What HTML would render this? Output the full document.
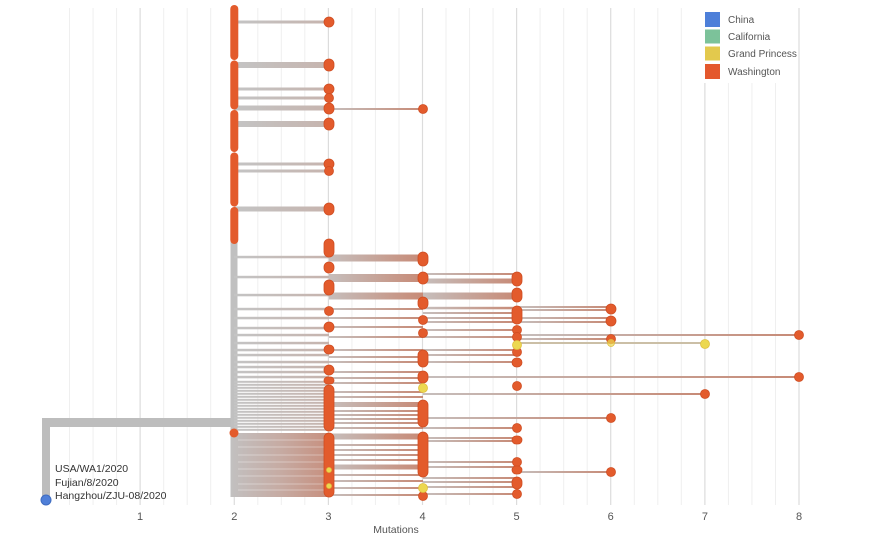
<!DOCTYPE html>
<html><head><meta charset="utf-8"><style>
html,body{margin:0;padding:0;background:#fff;}
svg{display:block;font-family:"Liberation Sans",sans-serif;}
</style></head><body>
<svg width="870" height="540" viewBox="0 0 870 540" xmlns="http://www.w3.org/2000/svg">
<defs>
<linearGradient id="g" x1="0" y1="0" x2="1" y2="0"><stop offset="0" stop-color="#c6bebc"/><stop offset="1" stop-color="#c78a76"/></linearGradient>
<linearGradient id="g2" x1="0" y1="0" x2="1" y2="0"><stop offset="0" stop-color="#c4c4c4"/><stop offset="1" stop-color="#c6b4ae"/></linearGradient>
<linearGradient id="gb" x1="0" y1="0" x2="1" y2="0"><stop offset="0" stop-color="#c2c0c0"/><stop offset="0.5" stop-color="#c6aba3"/><stop offset="1" stop-color="#c78f7e"/></linearGradient>
</defs>
<!-- grid -->
<g stroke="#efefef" stroke-width="1">
<line x1="69.5" y1="8" x2="69.5" y2="505"/><line x1="93.1" y1="8" x2="93.1" y2="505"/><line x1="116.6" y1="8" x2="116.6" y2="505"/>
<line x1="163.7" y1="8" x2="163.7" y2="505"/><line x1="187.2" y1="8" x2="187.2" y2="505"/><line x1="210.7" y1="8" x2="210.7" y2="505"/>
<line x1="257.8" y1="8" x2="257.8" y2="505"/><line x1="281.3" y1="8" x2="281.3" y2="505"/><line x1="304.8" y1="8" x2="304.8" y2="505"/>
<line x1="351.9" y1="8" x2="351.9" y2="505"/><line x1="375.4" y1="8" x2="375.4" y2="505"/><line x1="399" y1="8" x2="399" y2="505"/>
<line x1="446" y1="8" x2="446" y2="505"/><line x1="469.6" y1="8" x2="469.6" y2="505"/><line x1="493.1" y1="8" x2="493.1" y2="505"/>
<line x1="540.1" y1="8" x2="540.1" y2="505"/><line x1="563.7" y1="8" x2="563.7" y2="505"/><line x1="587.2" y1="8" x2="587.2" y2="505"/>
<line x1="634.3" y1="8" x2="634.3" y2="505"/><line x1="657.8" y1="8" x2="657.8" y2="505"/><line x1="681.3" y1="8" x2="681.3" y2="505"/>
<line x1="728.4" y1="8" x2="728.4" y2="505"/><line x1="751.9" y1="8" x2="751.9" y2="505"/><line x1="775.5" y1="8" x2="775.5" y2="505"/>
</g>
<g stroke="#dcdcdc" stroke-width="1.2">
<line x1="140.1" y1="8" x2="140.1" y2="505"/><line x1="234.3" y1="8" x2="234.3" y2="505"/><line x1="328.4" y1="8" x2="328.4" y2="505"/>
<line x1="422.5" y1="8" x2="422.5" y2="505"/><line x1="516.6" y1="8" x2="516.6" y2="505"/><line x1="610.7" y1="8" x2="610.7" y2="505"/>
<line x1="704.9" y1="8" x2="704.9" y2="505"/><line x1="799" y1="8" x2="799" y2="505"/>
</g>
<!-- legend bg -->
<rect x="700" y="5" width="97" height="78" fill="#fff"/>

<!-- root -->
<rect x="42" y="418" width="192" height="9" fill="#bdbdbd"/>
<rect x="42" y="418" width="8" height="82" fill="#bdbdbd"/>
<circle cx="46" cy="500" r="5" fill="#4f7fd8" stroke="#3f6cc0" stroke-width="1"/>
<g font-size="10.5" fill="#333">
<text x="55" y="472">USA/WA1/2020</text>
<text x="55" y="486">Fujian/8/2020</text>
<text x="55" y="499">Hangzhou/ZJU-08/2020</text>
</g>

<!-- lower gray trunk -->
<rect x="230.5" y="240" width="7" height="257" fill="#c0c0c0"/>

<!-- top branches -->
<g fill="url(#g2)">
<rect x="234" y="20.5" width="95" height="3"/>
<rect x="234" y="62" width="95" height="6"/>
<rect x="234" y="87.5" width="95" height="3"/>
<rect x="234" y="96.5" width="95" height="3"/>
<rect x="234" y="105.5" width="95" height="5"/>
<rect x="234" y="121" width="95" height="6"/>
<rect x="234" y="162.5" width="95" height="3"/>
<rect x="234" y="169.5" width="95" height="3"/>
<rect x="234" y="206.5" width="95" height="5"/>
<rect x="234" y="255.8" width="95" height="2.5"/>
<rect x="234" y="275.8" width="95" height="2.5"/>
<rect x="234" y="293.8" width="95" height="2.5"/>
<rect x="234" y="307.8" width="95" height="2.5"/>
<rect x="234" y="316.8" width="95" height="2.5"/>
<rect x="234" y="326.8" width="95" height="2.5"/>
<rect x="234" y="333.8" width="95" height="2.5"/>
<rect x="234" y="341.8" width="95" height="2.5"/>
<rect x="234" y="348.8" width="95" height="2.5"/>
<rect x="234" y="353.8" width="95" height="2.5"/>
<rect x="234" y="360.8" width="95" height="2.5"/>
<rect x="234" y="365.8" width="95" height="2.5"/>
<rect x="234" y="370.8" width="95" height="2.5"/>
<rect x="234" y="375.8" width="95" height="2.5"/>
<rect x="234" y="380.8" width="95" height="2"/>
<rect x="234" y="383.8" width="95" height="2"/>
<rect x="234" y="386.8" width="95" height="2"/>
<rect x="234" y="389.8" width="95" height="2"/>
<rect x="234" y="392.8" width="95" height="2"/>
<rect x="234" y="395.8" width="95" height="2"/>
<rect x="234" y="398.8" width="95" height="2"/>
<rect x="234" y="401.8" width="95" height="2"/>
<rect x="234" y="404.8" width="95" height="2"/>
<rect x="234" y="407.8" width="95" height="2"/>
<rect x="234" y="410.8" width="95" height="2"/>
<rect x="234" y="413.8" width="95" height="2"/>
<rect x="234" y="416.8" width="95" height="2"/>
<rect x="234" y="419.8" width="95" height="2"/>
<rect x="234" y="422.8" width="95" height="2"/>
<rect x="234" y="425.8" width="95" height="2"/>
<rect x="234" y="428.8" width="95" height="2"/>
</g>
<!-- lower dense block -->
<rect x="231" y="433" width="98" height="64" fill="url(#gb)"/>
<g stroke="#fff" stroke-opacity="0.35" stroke-width="1">
<line x1="238" y1="440" x2="329" y2="440"/><line x1="238" y1="447" x2="329" y2="447"/><line x1="238" y1="455" x2="329" y2="455"/>
<line x1="238" y1="462" x2="329" y2="462"/><line x1="238" y1="469" x2="329" y2="469"/><line x1="238" y1="476" x2="329" y2="476"/>
<line x1="238" y1="484" x2="329" y2="484"/><line x1="238" y1="490" x2="329" y2="490"/>
</g>

<!-- 3->4 branches -->
<g fill="url(#g)">
<rect x="329" y="108" width="94" height="2"/>
<rect x="329" y="254.5" width="94" height="7"/>
<rect x="329" y="274" width="94" height="8"/>
<rect x="329" y="292.5" width="94" height="7"/>
<rect x="329" y="308" width="94" height="2"/>
<rect x="329" y="317" width="94" height="2"/>
<rect x="329" y="326" width="94" height="2"/>
<rect x="329" y="336" width="94" height="2"/>
<rect x="329" y="349" width="94" height="2"/>
<rect x="329" y="356" width="94" height="2"/>
<rect x="329" y="361" width="94" height="2"/>
<rect x="329" y="371" width="94" height="2"/>
<rect x="329" y="377" width="94" height="2"/>
<rect x="329" y="382" width="94" height="2"/>
<rect x="329" y="391" width="94" height="2"/>
<rect x="329" y="396" width="94" height="2"/>
<rect x="329" y="402" width="94" height="5"/>
<rect x="329" y="410" width="94" height="2"/>
<rect x="329" y="414" width="94" height="2"/>
<rect x="329" y="418" width="94" height="2"/>
<rect x="329" y="422" width="94" height="2"/>
<rect x="329" y="427" width="94" height="2"/>
<rect x="329" y="433.5" width="94" height="6"/>
<rect x="329" y="444" width="94" height="2"/>
<rect x="329" y="449" width="94" height="2"/>
<rect x="329" y="454" width="94" height="2"/>
<rect x="329" y="459" width="94" height="2"/>
<rect x="329" y="464.5" width="94" height="5"/>
<rect x="329" y="474" width="94" height="2"/>
<rect x="329" y="480" width="94" height="2"/>
<rect x="329" y="487" width="94" height="2"/>
<rect x="329" y="494" width="94" height="2"/>
</g>
<!-- 4->5 branches -->
<g fill="url(#g)">
<rect x="423" y="273" width="94" height="2"/>
<rect x="423" y="278.5" width="94" height="5"/>
<rect x="423" y="292.5" width="94" height="7"/>
<rect x="423" y="306.8" width="94" height="2.5"/>
<rect x="423" y="312" width="94" height="2"/>
<rect x="423" y="317" width="94" height="2"/>
<rect x="423" y="321" width="94" height="2"/>
<rect x="423" y="329" width="94" height="2"/>
<rect x="423" y="336" width="94" height="2"/>
<rect x="423" y="349" width="94" height="2"/>
<rect x="423" y="354" width="94" height="2"/>
<rect x="423" y="361" width="94" height="2"/>
<rect x="423" y="427" width="94" height="2"/>
<rect x="423" y="437" width="94" height="2"/>
<rect x="423" y="440" width="94" height="2"/>
<rect x="423" y="461" width="94" height="2"/>
<rect x="423" y="466" width="94" height="2"/>
<rect x="423" y="477" width="94" height="2"/>
<rect x="423" y="481" width="94" height="2"/>
<rect x="423" y="486" width="94" height="2"/>
<rect x="423" y="493" width="94" height="2"/>
</g>
<!-- 5->6 and long -->
<g fill="url(#g)">
<rect x="517" y="306" width="94" height="2"/>
<rect x="517" y="309" width="94" height="2"/>
<rect x="517" y="317" width="94" height="2"/>
<rect x="517" y="321" width="94" height="2"/>
<rect x="517" y="338" width="94" height="2"/>
<rect x="517" y="334" width="282" height="2"/>
<rect x="423" y="376" width="376" height="2"/>
<rect x="423" y="393" width="282" height="2"/>
<rect x="423" y="417" width="188" height="2"/>
<rect x="517" y="471" width="94" height="2"/>
</g>
<rect x="517" y="342" width="188" height="2" fill="#cbbfa6"/>

<!-- orange stacked bar at 2 -->
<g fill="#e35b2c">
<rect x="230.3" y="5" width="8" height="55" rx="4"/>
<rect x="230.3" y="60.5" width="8" height="49" rx="4"/>
<rect x="230.3" y="110" width="8" height="42" rx="4"/>
<rect x="230.3" y="152.5" width="8" height="54" rx="4"/>
<rect x="230.3" y="207" width="8" height="37" rx="4"/>
<circle cx="234" cy="433" r="4.5"/>
</g>

<!-- nodes -->
<g fill="#e35b2c" stroke="#cf4d22" stroke-width="0.8">
<!-- at 3 -->
<circle cx="329" cy="22" r="5"/>
<rect x="324" y="59" width="10" height="12" rx="5"/>
<circle cx="329" cy="89" r="5"/>
<circle cx="329" cy="98" r="4.5"/>
<rect x="324" y="103" width="10" height="11" rx="5"/>
<rect x="324" y="118" width="10" height="12" rx="5"/>
<circle cx="329" cy="164" r="5"/>
<circle cx="329" cy="171" r="4.5"/>
<rect x="324" y="203" width="10" height="12" rx="5"/>
<rect x="324" y="239" width="10" height="18" rx="5"/>
<rect x="324" y="262" width="10" height="11" rx="5"/>
<rect x="324" y="280" width="10" height="15" rx="5"/>
<circle cx="329" cy="311" r="4.5"/>
<rect x="324" y="322" width="10" height="10" rx="5"/>
<rect x="324" y="345" width="10" height="9" rx="4.5"/>
<rect x="324" y="365" width="10" height="10" rx="5"/>
<rect x="324" y="377" width="10" height="7" rx="3.5"/>
<rect x="324" y="385" width="10" height="46" rx="5"/>
<rect x="324" y="433" width="10" height="64" rx="5"/>
<!-- at 4 -->
<circle cx="423" cy="109" r="4.5"/>
<rect x="418" y="252" width="10" height="14" rx="5"/>
<rect x="418" y="272" width="10" height="12" rx="5"/>
<rect x="418" y="297" width="10" height="12" rx="5"/>
<circle cx="423" cy="320" r="4.5"/>
<circle cx="423" cy="333" r="4.5"/>
<rect x="418" y="350" width="10" height="17" rx="5"/>
<rect x="418" y="371" width="10" height="12" rx="5"/>
<rect x="418" y="400" width="10" height="27" rx="5"/>
<rect x="418" y="432" width="10" height="45" rx="5"/>
<circle cx="423" cy="496" r="4.5"/>
<!-- at 5 -->
<rect x="512" y="272" width="10" height="14" rx="5"/>
<rect x="512" y="288" width="10" height="14" rx="5"/>
<rect x="512" y="306" width="10" height="18" rx="5"/>
<circle cx="517" cy="330" r="4.5"/>
<circle cx="517" cy="337" r="4.5"/>
<circle cx="517" cy="352" r="4.5"/>
<rect x="512" y="358" width="10" height="9" rx="4.5"/>
<circle cx="517" cy="386" r="4.5"/>
<circle cx="517" cy="428" r="4.5"/>
<rect x="512" y="436" width="10" height="8" rx="4"/>
<circle cx="517" cy="462" r="4.5"/>
<rect x="512" y="466" width="10" height="8" rx="4"/>
<rect x="512" y="477" width="10" height="12" rx="5"/>
<circle cx="517" cy="494" r="4.5"/>
<!-- at 6 -->
<rect x="606" y="304" width="10" height="10" rx="5"/>
<rect x="606" y="316" width="10" height="10" rx="5"/>
<circle cx="611" cy="339" r="4.5"/>
<circle cx="611" cy="418" r="4.5"/>
<circle cx="611" cy="472" r="4.5"/>
<!-- at 7, 8 -->
<circle cx="705" cy="394" r="4.5"/>
<circle cx="799" cy="335" r="4.5"/>
<circle cx="799" cy="377" r="4.5"/>
</g>
<!-- yellow nodes -->
<g fill="#ecd850" stroke="#e0c040" stroke-width="0.8">
<circle cx="423" cy="388" r="4.5"/>
<circle cx="423" cy="488" r="4.5"/>
<circle cx="517" cy="345" r="4.5"/>
<circle cx="611" cy="343" r="3.5" fill-opacity="0.7"/>
<circle cx="705" cy="344" r="4.5"/>
<circle cx="329" cy="470" r="2.5"/>
<circle cx="329" cy="486" r="2.5"/>
</g>

<!-- legend -->
<rect x="705" y="12" width="15" height="15" fill="#4d7fd9"/>
<rect x="705" y="29.5" width="15" height="14" fill="#7cc29a"/>
<rect x="705" y="46.5" width="15" height="14" fill="#e3c94d"/>
<rect x="705" y="64" width="15" height="15" fill="#e4582d"/>
<g font-size="10" fill="#555">
<text x="728" y="23">China</text>
<text x="728" y="40">California</text>
<text x="728" y="57">Grand Princess</text>
<text x="728" y="75">Washington</text>
</g>

<!-- axis -->
<g font-size="11" fill="#555" text-anchor="middle">
<text x="140" y="520">1</text>
<text x="234.3" y="520">2</text>
<text x="328.4" y="520">3</text>
<text x="422.5" y="520">4</text>
<text x="516.6" y="520">5</text>
<text x="610.7" y="520">6</text>
<text x="704.9" y="520">7</text>
<text x="799" y="520">8</text>
<text x="396" y="533" font-size="10.5">Mutations</text>
</g>
</svg>
</body></html>
